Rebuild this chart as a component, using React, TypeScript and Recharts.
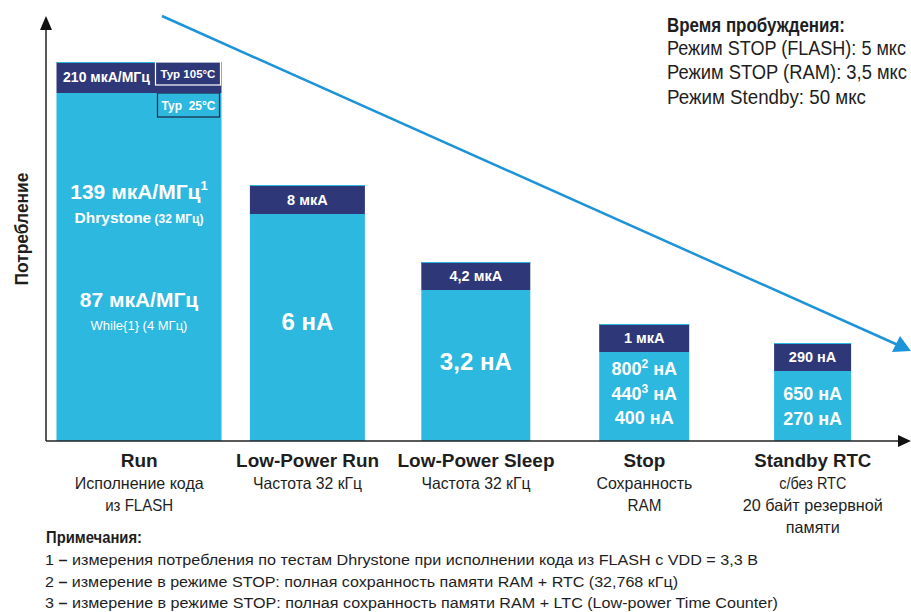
import React from 'react';
import { BarChart, Bar, XAxis, YAxis } from 'recharts';

const categories = ['Run', 'Low-Power Run', 'Low-Power Sleep', 'Stop', 'Standby RTC'];
const categorySubtitles = [
  ['Исполнение кода', 'из FLASH'],
  ['Частота 32 кГц'],
  ['Частота 32 кГц'],
  ['Сохранность', 'RAM'],
  ['с/без RTC', '20 байт резервной', 'памяти'],
];
// visual consumption height (arbitrary units): typical 25°C part and extra 105°C part
const typ25Values = [348, 227, 151, 89, 70];
const typ105Values = [31, 29, 28, 28, 28];
const typ105Labels = ['210 мкА/МГц', '8 мкА', '4,2 мкА', '1 мкА', '290 нА'];
const runLabels = ['139 мкА/МГц', 'Dhrystone', '(32 МГц)', '87 мкА/МГц', 'While{1} (4 МГц)'];
const lpRunLabel = '6 нА';
const lpSleepLabel = '3,2 нА';
const stopLabels = [['800', '2', ' нА'], ['440', '3', ' нА'], ['400', '', ' нА']];
const standbyLabels = ['650 нА', '270 нА'];
const wakeTitle = 'Время пробуждения:';
const wakeLines = ['Режим STOP (FLASH): 5 мкс', 'Режим STOP (RAM): 3,5 мкс', 'Режим Stendby: 50 мкс'];
const notesTitle = 'Примечания:';
const notes = [
  ['1', 'измерения потребления по тестам Dhrystone при исполнении кода из FLASH с VDD = 3,3 В'],
  ['2', 'измерение в режиме STOP: полная сохранность памяти RAM + RTC (32,768 кГц)'],
  ['3', 'измерение в режиме STOP: полная сохранность памяти RAM + LTC (Low-power Time Counter)'],
];
const yLabel = 'Потребление';

const data = categories.map((c, i) => ({
  name: c,
  typ25: typ25Values[i],
  typ105: typ105Values[i],
}));

// ---- styles ----
const LIGHT = '#2db8e0';
const NAVY = '#2e3879';
const ARROW = '#1d93d8';
const INK = '#1e1e1e';
const SANS = "'Liberation Sans', Arial, Helvetica, sans-serif";
const barWidths = [165, 115, 109, 90, 77];
// condensed-font rendering widths (px)
const titleWidths = [37, 143, 157, 42, 117];
const subtitleWidths = [[129, 68], [109], [109], [96, 34], [67, 140, 54]];
const wakeTitleWidth = 178;
const wakeWidths = [239, 240, 199];
const notesTitleWidth = 96;
const notesWidths = [713, 633, 733];
const yLabelWidth = 113;

const LightShape = (props: any) => {
  const { x, y, width, height, index } = props;
  const w = barWidths[index];
  const cx = x + width / 2;
  const left = cx - w / 2;
  const bottom = y + height;
  const t = (content: any, ty: number, size: number, weight = 700, tx = cx) => (
    <text x={tx} y={ty} textAnchor="middle" fill="#fff" fontSize={size} fontWeight={weight} fontFamily={SANS}>
      {content}
    </text>
  );
  return (
    <g>
      <rect x={left} y={y} width={w} height={height} fill={LIGHT} />
      {index === 0 && (
        <g>
          <rect x={left + w - 64} y={y} width={62} height={24} fill={LIGHT} stroke="#1b2540" strokeWidth={1.2} />
          <text x={left + w - 33} y={y + 17} textAnchor="middle" fill="#fff" fontSize={12} fontWeight={700} fontFamily={SANS}>
            Typ{'\u00a0\u00a0'}25°C
          </text>
          {t(
            <>
              {runLabels[0]}
              <tspan dy={-9} fontSize={13}>1</tspan>
            </>,
            y + 106,
            21
          )}
          {t(
            <>
              {runLabels[1]}
              <tspan fontSize={12}> {runLabels[2]}</tspan>
            </>,
            y + 130,
            15.5
          )}
          {t(runLabels[3], y + 214, 21)}
          {t(runLabels[4], y + 237, 13, 400)}
        </g>
      )}
      {index === 1 && t(lpRunLabel, bottom - 111, 24)}
      {index === 2 && t(lpSleepLabel, bottom - 71, 24)}
      {index === 3 &&
        stopLabels.map((s, k) => (
          <text key={k} x={cx} y={bottom - 66 + k * 24.5} textAnchor="middle" fill="#fff" fontSize={18} fontWeight={700} fontFamily={SANS}>
            {s[0]}
            {s[1] ? <tspan dy={-7} fontSize={12}>{s[1]}</tspan> : null}
            <tspan dy={s[1] ? 7 : 0}>{s[2]}</tspan>
          </text>
        ))}
      {index === 4 &&
        standbyLabels.map((s, k) => (
          <text key={k} x={cx} y={bottom - 41 + k * 24.5} textAnchor="middle" fill="#fff" fontSize={18} fontWeight={700} fontFamily={SANS}>
            {s}
          </text>
        ))}
    </g>
  );
};

const DarkShape = (props: any) => {
  const { x, y, width, height, index } = props;
  const w = barWidths[index];
  const cx = x + width / 2;
  const left = cx - w / 2;
  return (
    <g>
      <rect x={left} y={y} width={w} height={height} fill={NAVY} />
      <line x1={left} x2={left + w} y1={y + 0.5} y2={y + 0.5} stroke={LIGHT} strokeWidth={1} />
      {index === 0 ? (
        <g>
          <text x={left + 50} y={y + 20} textAnchor="middle" fill="#fff" fontSize={14} fontWeight={700} fontFamily={SANS}>
            {typ105Labels[0]}
          </text>
          <rect x={left + w - 66} y={y} width={65} height={23} fill={NAVY} stroke="#fff" strokeWidth={1.2} />
          <text x={left + w - 33.5} y={y + 16} textAnchor="middle" fill="#fff" fontSize={11.5} fontWeight={700} fontFamily={SANS}>
            Typ 105°C
          </text>
        </g>
      ) : (
        <text x={cx} y={y + height / 2 + 5} textAnchor="middle" fill="#fff" fontSize={14.5} fontWeight={700} fontFamily={SANS}>
          {typ105Labels[index]}
        </text>
      )}
    </g>
  );
};

const CategoryTick = (props: any) => {
  const { x, payload, index } = props;
  const subs = categorySubtitles[index] || [];
  return (
    <g>
      <text
        x={x}
        y={467}
        textAnchor="middle"
        fill={INK}
        fontSize={17.5}
        fontWeight={700}
        fontFamily={SANS}
        textLength={titleWidths[index]}
        lengthAdjust="spacingAndGlyphs"
      >
        {payload.value}
      </text>
      {subs.map((s: string, k: number) => (
        <text
          key={k}
          x={x}
          y={489 + k * 22}
          textAnchor="middle"
          fill={INK}
          fontSize={16.5}
          fontFamily={SANS}
          textLength={subtitleWidths[index][k]}
          lengthAdjust="spacingAndGlyphs"
        >
          {s}
        </text>
      ))}
    </g>
  );
};

export default function App() {
  return (
    <div style={{ position: 'absolute', left: 0, top: 0, width: 911, height: 612, background: '#fff' }}>
      <BarChart width={911} height={612} data={data} margin={{ top: 22, right: 6, left: 45, bottom: 0 }} barCategoryGap={40}>
        <YAxis width={1} domain={[0, 419]} tick={false} tickLine={false} axisLine={{ stroke: '#222', strokeWidth: 1.5 }} />
        <XAxis
          dataKey="name"
          height={171}
          interval={0}
          padding={{ left: 9, right: 8 }}
          tickLine={false}
          axisLine={{ stroke: '#222', strokeWidth: 1.5 }}
          tick={<CategoryTick />}
        />
        <Bar dataKey="typ25" stackId="s" fill={LIGHT} shape={<LightShape />} isAnimationActive={false} />
        <Bar dataKey="typ105" stackId="s" fill={NAVY} shape={<DarkShape />} isAnimationActive={false} />
      </BarChart>
      <svg width={911} height={612} style={{ position: 'absolute', left: 0, top: 0, pointerEvents: 'none' }}>
        {/* axis arrow heads */}
        <polygon points="46,16 40,30 52,30" fill="#111" />
        <polygon points="911,441 898,435 898,447" fill="#111" />
        {/* trend arrow */}
        <line x1={162} y1={16} x2={898} y2={345} stroke={ARROW} strokeWidth={2.5} />
        <polygon points="911,351 892,352 900,336" fill={ARROW} />
        {/* y label */}
        <text
          x={0}
          y={0}
          transform="translate(27.5,229) rotate(-90)"
          textAnchor="middle"
          fill={INK}
          fontSize={18.5}
          fontWeight={700}
          fontFamily={SANS}
          textLength={yLabelWidth}
          lengthAdjust="spacingAndGlyphs"
        >
          {yLabel}
        </text>
        {/* wake-up times */}
        <text x={667} y={32} fill={INK} fontSize={20} fontWeight={700} fontFamily={SANS} textLength={wakeTitleWidth} lengthAdjust="spacingAndGlyphs">
          {wakeTitle}
        </text>
        {wakeLines.map((l, k) => (
          <text key={k} x={667} y={54.5 + k * 24.8} fill={INK} fontSize={20} fontFamily={SANS} textLength={wakeWidths[k]} lengthAdjust="spacingAndGlyphs">
            {l}
          </text>
        ))}
        {/* notes */}
        <text x={46} y={543} fill={INK} fontSize={16} fontWeight={700} fontFamily={SANS} textLength={notesTitleWidth} lengthAdjust="spacingAndGlyphs">
          {notesTitle}
        </text>
        {notes.map((n, k) => (
          <text key={k} x={45} y={565 + k * 21.5} fill={INK} fontSize={15.5} fontFamily={SANS} textLength={notesWidths[k]} lengthAdjust="spacingAndGlyphs">
            {n[0]} <tspan fontWeight={700}>–</tspan> {n[1]}
          </text>
        ))}
      </svg>
    </div>
  );
}
